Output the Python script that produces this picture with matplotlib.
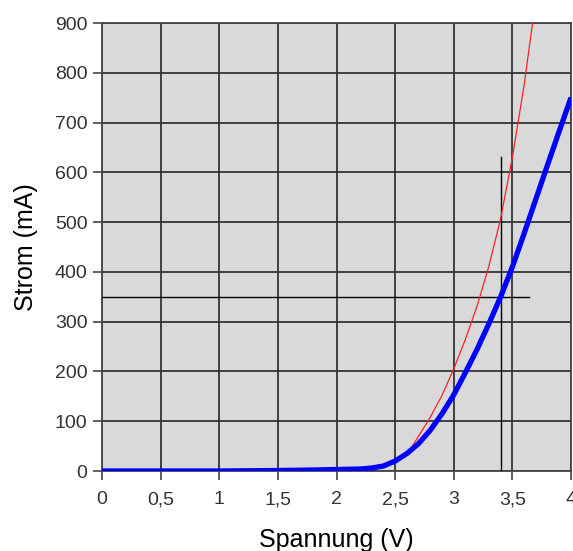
import matplotlib
matplotlib.use("Agg")
import matplotlib.pyplot as plt
import numpy as np

# Data
blue_x = [0.0, 0.5, 1.0, 1.5, 1.8, 2.0, 2.2, 2.3, 2.4, 2.5, 2.6, 2.7, 2.8, 2.9, 3.0, 3.1, 3.2, 3.3, 3.4, 3.5, 3.6, 3.7, 3.8, 3.9, 4.0]
blue_y = [0, 0, 0, 1, 2, 3, 4, 6, 10, 20, 35, 55, 82, 115, 153, 198, 245, 296, 350, 410, 477, 546, 615, 683, 750]
red_x = [2.62, 2.7, 2.8, 2.9, 3.0, 3.1, 3.2, 3.3, 3.4, 3.5, 3.6, 3.67, 3.72]
red_y = [40, 70, 108, 152, 205, 265, 332, 412, 507, 630, 775, 896, 990]
hline_y = 350
hline_x = [0, 3.64]
vline_x = 3.4
vline_y = [0, 630]
x_ticks = [0, 0.5, 1, 1.5, 2, 2.5, 3, 3.5, 4]
x_labels = ["0", "0,5", "1", "1,5", "2", "2,5", "3", "3,5", "4"]
y_ticks = [0, 100, 200, 300, 400, 500, 600, 700, 800, 900]

plt.rcParams['font.family'] = ['Liberation Sans', 'DejaVu Sans']
fig = plt.figure(figsize=(5.73, 5.51), dpi=100)
ax = fig.add_axes([102/573, 80/551, 469/573, 448/551])
ax.set_facecolor('#d9d9d9')
ax.set_xlim(0, 4)
ax.set_ylim(0, 900)
ax.set_xticks(x_ticks)
ax.set_xticklabels(x_labels)
ax.set_yticks(y_ticks)
ax.grid(True, color='#333333', linewidth=1.3)
ax.set_axisbelow(True)
for s in ax.spines.values():
    s.set_color('#444444')
    s.set_linewidth(1.3)
ax.tick_params(direction='out', length=6.5, width=1.2, color='#444444',
               labelsize=14, labelcolor='#333333', pad=4)
ax.tick_params(axis='x', pad=8)

ax.plot(hline_x, [hline_y, hline_y], color='black', linewidth=1.0, zorder=3)
ax.plot([vline_x, vline_x], vline_y, color='black', linewidth=1.0, zorder=3)
ax.plot(red_x, red_y, color='#ff2020', linewidth=0.9, zorder=4)
ax.plot(blue_x, blue_y, color='#0000ff', linewidth=3.8, zorder=5, solid_capstyle='butt')

ax.set_xlabel('Spannung (V)', fontsize=18, labelpad=14)
ax.set_ylabel('Strom (mA)', fontsize=18, labelpad=12)

fig.savefig('out.png', dpi=100)
